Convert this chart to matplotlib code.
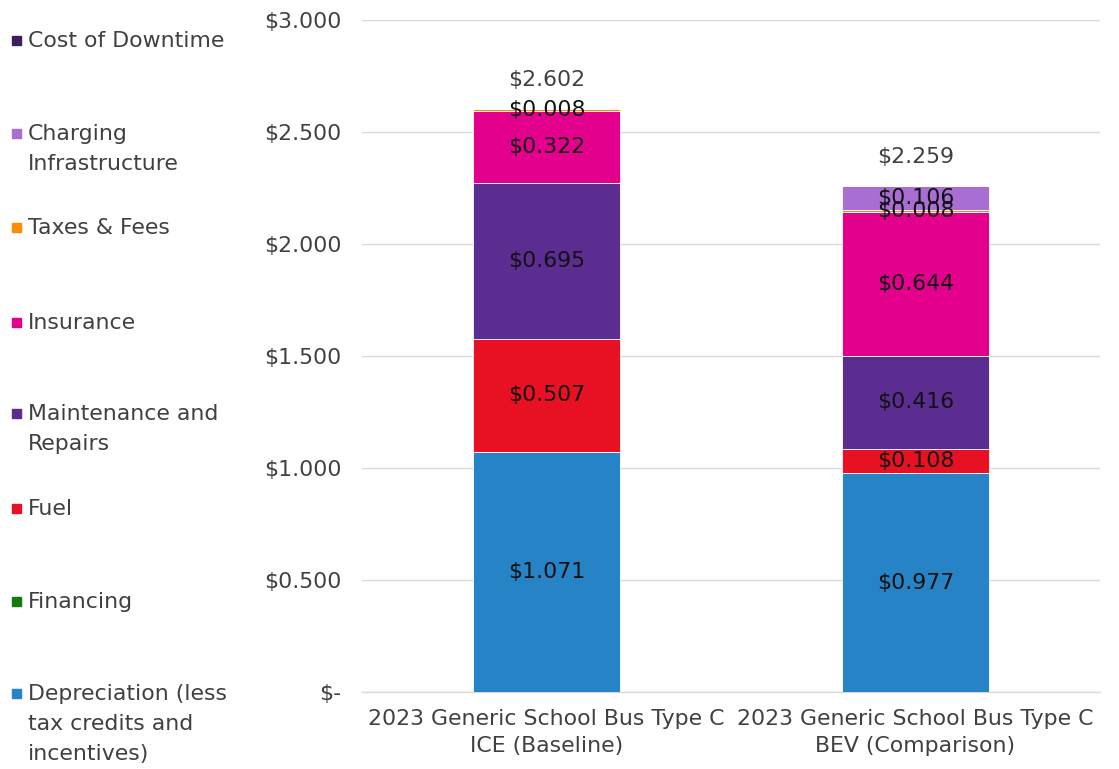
import matplotlib
matplotlib.use("Agg")
import matplotlib.pyplot as plt
from matplotlib.patches import Rectangle
import numpy as np

plt.rcParams['font.family'] = ['DejaVu Sans']

categories = ["2023 Generic School Bus Type C\nICE (Baseline)",
              "2023 Generic School Bus Type C\nBEV (Comparison)"]
series_names = ["Depreciation (less\ntax credits and\nincentives)", "Financing", "Fuel",
                "Maintenance and\nRepairs", "Insurance", "Taxes & Fees",
                "Charging\nInfrastructure", "Cost of Downtime"]
colors = ["#2683C6", "#107C10", "#E81123", "#5C2D91", "#E3008C", "#FF8C00",
          "#A86ED3", "#3B1F5E"]
depreciation = [1.071, 0.977]
financing = [0.0, 0.0]
fuel = [0.507, 0.108]
maintenance = [0.695, 0.416]
insurance = [0.322, 0.644]
taxes = [0.008, 0.008]
charging = [0.0, 0.106]
downtime = [0.0, 0.0]
totals = [2.602, 2.259]
yticks = [0, 0.5, 1.0, 1.5, 2.0, 2.5, 3.0]
ytick_labels = ["$-", "$0.500", "$1.000", "$1.500", "$2.000", "$2.500", "$3.000"]

series = [depreciation, financing, fuel, maintenance, insurance, taxes, charging, downtime]

FS = 15.8
W, H = 1119, 769
fig = plt.figure(figsize=(W / 100, H / 100), dpi=100)
ax = fig.add_axes([362 / W, 1 - 692 / H, (1100 - 362) / W, (692 - 20) / H])

x = np.arange(len(categories))
bottom = np.zeros(len(categories))
for vals, name, col in zip(series, series_names, colors):
    vals = np.array(vals)
    ax.bar(x, vals, width=0.40, bottom=bottom, color=col, edgecolor="white",
           linewidth=0.6, zorder=3)
    for xi, v, b in zip(x, vals, bottom):
        if v > 0:
            ax.text(xi, b + v / 2, f"${v:.3f}", ha="center", va="center",
                    fontsize=FS, color="#111111", zorder=4)
    bottom += vals

for xi, t, b in zip(x, totals, bottom):
    ax.text(xi, b + 0.13, f"${t:.3f}", ha="center", va="center",
            fontsize=FS, color="#404040", zorder=4)

ax.set_xlim(-0.5, 1.5)
ax.set_ylim(0, 3.0)
ax.set_yticks(yticks)
ax.set_yticklabels(ytick_labels)
ax.set_xticks(x)
ax.set_xticklabels(categories, linespacing=1.45)
ax.tick_params(axis="y", length=0, labelsize=FS, labelcolor="#404040", pad=15)
ax.tick_params(axis="x", length=0, labelsize=FS, labelcolor="#404040", pad=12)
ax.yaxis.grid(True, color="#d9d9d9", linewidth=1, zorder=0)
for s in ["top", "right", "left"]:
    ax.spines[s].set_visible(False)
ax.spines["bottom"].set_color("#d9d9d9")
ax.spines["bottom"].set_linewidth(1)

# Legend (manual, top to bottom: reversed series order)
legend_y = [40, 133, 227, 322, 413, 508, 601, 693]
for ypix, name, col in zip(legend_y, series_names[::-1], colors[::-1]):
    fig.patches.append(Rectangle((12 / W, 1 - (ypix + 5) / H), 9 / W, 9 / H,
                                 transform=fig.transFigure, color=col))
    fig.text(28 / W, 1 - (ypix - 9) / H, name, ha="left", va="top",
             fontsize=FS, color="#404040", linespacing=1.62)

fig.savefig("out.png", dpi=100)
